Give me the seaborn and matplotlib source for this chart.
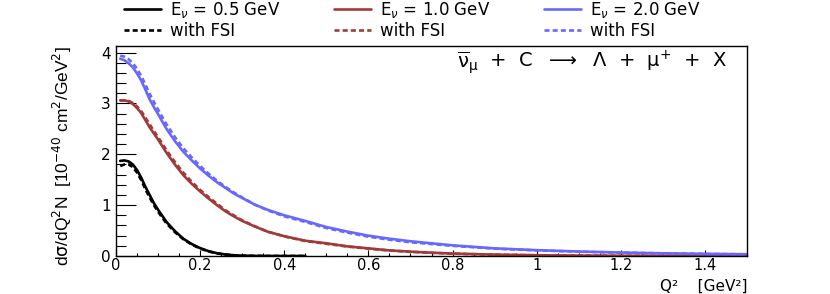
import matplotlib
matplotlib.use("Agg")
import matplotlib.pyplot as plt
from matplotlib.lines import Line2D
from matplotlib.ticker import MultipleLocator, FuncFormatter
import seaborn as sns
import pandas as pd

# ---------------- data ----------------
q2_grid = [0.01, 0.02, 0.03, 0.04, 0.05, 0.06, 0.07, 0.08, 0.09, 0.10,
           0.12, 0.14, 0.16, 0.18, 0.20, 0.22, 0.24, 0.26, 0.28, 0.30,
           0.33, 0.36, 0.40, 0.45, 0.50, 0.55, 0.60, 0.65, 0.70, 0.75,
           0.80, 0.90, 1.00, 1.10, 1.20, 1.30, 1.40, 1.50]

q2_low = [0.01, 0.02, 0.03, 0.04, 0.05, 0.06, 0.07, 0.08, 0.09, 0.10,
          0.12, 0.14, 0.16, 0.18, 0.20, 0.22, 0.24, 0.26, 0.28, 0.30,
          0.33, 0.36, 0.40, 0.45]

e05 = [1.87, 1.88, 1.86, 1.80, 1.69, 1.54, 1.36, 1.20, 1.04, 0.91,
       0.67, 0.49, 0.34, 0.235, 0.155, 0.095, 0.055, 0.030, 0.015, 0.007,
       0.002, 0.0005, 0.0, 0.0]
e05_fsi = [1.77, 1.80, 1.80, 1.75, 1.64, 1.49, 1.31, 1.15, 1.00, 0.87,
           0.64, 0.47, 0.33, 0.225, 0.148, 0.090, 0.052, 0.028, 0.014, 0.006,
           0.002, 0.0005, 0.0, 0.0]

e10 = [3.06, 3.06, 3.04, 2.99, 2.91, 2.81, 2.67, 2.53, 2.41, 2.29,
       2.03, 1.80, 1.59, 1.42, 1.27, 1.13, 1.00, 0.88, 0.78, 0.69,
       0.58, 0.48, 0.39, 0.30, 0.25, 0.19, 0.15, 0.11, 0.085, 0.065,
       0.048, 0.027, 0.015, 0.008, 0.004, 0.002, 0.001, 0.0005]
e10_fsi = [3.06, 3.06, 3.05, 3.01, 2.94, 2.85, 2.72, 2.59, 2.46, 2.34,
           2.08, 1.85, 1.64, 1.46, 1.30, 1.16, 1.03, 0.90, 0.80, 0.70,
           0.585, 0.48, 0.385, 0.295, 0.24, 0.185, 0.145, 0.108, 0.082, 0.063,
           0.046, 0.026, 0.014, 0.008, 0.004, 0.002, 0.001, 0.0005]

e20 = [3.88, 3.85, 3.79, 3.71, 3.59, 3.45, 3.27, 3.08, 2.93, 2.79,
       2.50, 2.26, 2.05, 1.88, 1.72, 1.58, 1.45, 1.34, 1.23, 1.14,
       1.01, 0.91, 0.80, 0.69, 0.57, 0.48, 0.40, 0.34, 0.29, 0.25,
       0.21, 0.15, 0.115, 0.088, 0.068, 0.053, 0.042, 0.034]
e20_fsi = [3.94, 3.92, 3.87, 3.79, 3.68, 3.54, 3.37, 3.19, 3.03, 2.88,
           2.59, 2.34, 2.12, 1.94, 1.77, 1.62, 1.48, 1.36, 1.25, 1.15,
           1.01, 0.90, 0.78, 0.67, 0.55, 0.46, 0.38, 0.32, 0.27, 0.235,
           0.20, 0.145, 0.11, 0.085, 0.066, 0.052, 0.041, 0.033]

series_labels = [r"E$_{\nu}$ = 0.5 GeV", r"E$_{\nu}$ = 1.0 GeV", r"E$_{\nu}$ = 2.0 GeV"]
fsi_label = "with FSI"
x_ticks = [0, 0.2, 0.4, 0.6, 0.8, 1.0, 1.2, 1.4]
y_ticks = [0, 1, 2, 3, 4]

# ---------------- style ----------------
sns.set_style("white")
plt.rcParams["font.family"] = ["DejaVu Sans"]
plt.rcParams["mathtext.fontset"] = "dejavusans"
for k in ["text.color", "axes.labelcolor", "xtick.color", "ytick.color"]:
    plt.rcParams[k] = "black"

col_black = "#000000"
col_red = "#a23a3a"
col_blue = "#6868ff"
lw = 1.9
dash = (0, (1.9, 1.2))

fig = plt.figure(figsize=(8.3, 2.94), dpi=100)
ax = fig.add_axes([116 / 830, 1 - 256 / 294, (747 - 116) / 830, (256 - 46) / 294])

curves = [
    (q2_low, e05, col_black, "-"),
    (q2_low, e05_fsi, col_black, dash),
    (q2_grid, e10, col_red, "-"),
    (q2_grid, e10_fsi, col_red, dash),
    (q2_grid, e20, col_blue, "-"),
    (q2_grid, e20_fsi, col_blue, dash),
]
for xs, ys, c, ls in curves:
    df = pd.DataFrame({"Q2": xs, "v": ys})
    sns.lineplot(data=df, x="Q2", y="v", ax=ax, color=c, lw=lw,
                 linestyle=ls, errorbar=None, legend=False)

ax.set_xlim(0, 1.5)
ax.set_ylim(0, 4.13)

for s in ax.spines.values():
    s.set_visible(True)
    s.set_color("black")
    s.set_linewidth(1.0)

ax.set_xticks(x_ticks)
ax.set_yticks(y_ticks)
ax.xaxis.set_minor_locator(MultipleLocator(0.05))
ax.yaxis.set_minor_locator(MultipleLocator(0.2))
ax.xaxis.set_major_formatter(FuncFormatter(lambda v, p: "%g" % round(v, 2)))
ax.yaxis.set_major_formatter(FuncFormatter(lambda v, p: "%g" % v))
ax.tick_params(axis="y", which="major", direction="in", length=14.5, width=0.8,
               left=True, right=False, labelsize=11, pad=4, colors="black")
ax.tick_params(axis="y", which="minor", direction="in", length=7.5, width=0.8,
               left=True, right=False, colors="black")
ax.tick_params(axis="x", which="major", direction="in", length=4.3, width=0.8,
               bottom=True, top=False, labelsize=10.5, pad=1.5, colors="black")
ax.tick_params(axis="x", which="minor", direction="in", length=2.2, width=0.8,
               bottom=True, top=False, colors="black")

ax.set_xlabel("Q²    [GeV²]", fontsize=11, loc="right")
ax.xaxis.set_label_coords(1.0, -(293.5 - 256) / 210)
ax.xaxis.label.set_verticalalignment("bottom")
ax.set_ylabel(r"d$\mathrm{\sigma}$/dQ$^{2}$N  [10$^{-40}$ cm$^{2}$/GeV$^{2}$]",
              fontsize=12.5, loc="top", family=["Liberation Sans", "DejaVu Sans"])
ax.yaxis.set_label_coords(-0.066, 1.0)

fig.text(727 / 830, 1 - 62 / 294,
         r"$\overline{\mathrm{\nu}}_{\mathrm{\mu}}$  +  C  $\longrightarrow$  Λ  +  μ$^{+}$  +  X",
         ha="right", va="center", fontsize=14)

# legend: three columns placed at the reference positions
col_x = [124 / 830, 334 / 830, 544 / 830]
cols = [col_black, col_red, col_blue]
for xpos, c, lab in zip(col_x, cols, series_labels):
    handles = [Line2D([], [], color=c, lw=lw, linestyle="-"),
               Line2D([], [], color=c, lw=lw, linestyle=dash)]
    fig.legend(handles, [lab, fsi_label], loc="upper left",
               bbox_to_anchor=(xpos, 1.0), frameon=False, fontsize=12,
               handlelength=2.2, handletextpad=0.55, labelspacing=0.12,
               borderpad=0.0, borderaxespad=0.0)

fig.savefig("out.png", dpi=100)
